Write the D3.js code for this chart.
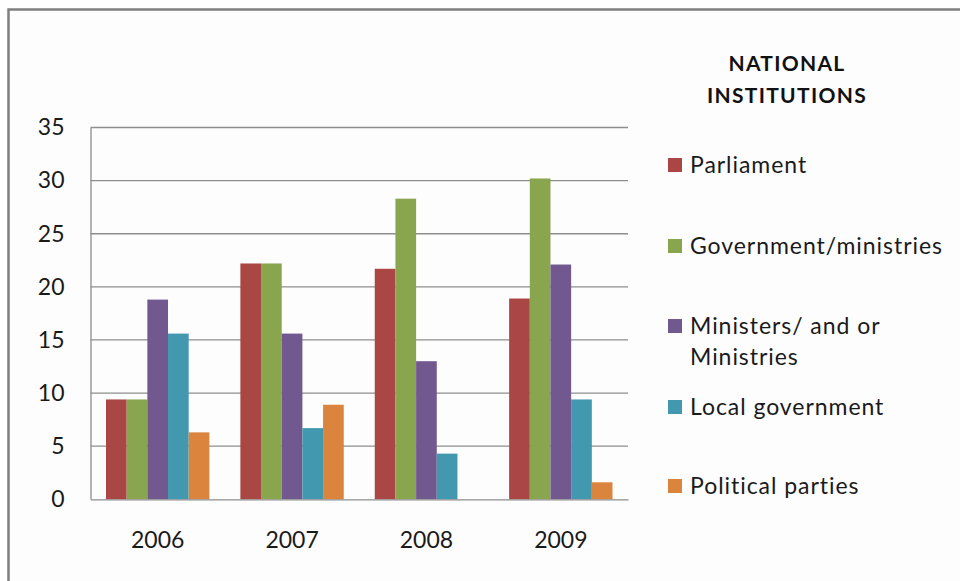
<!DOCTYPE html>
<html>
<head>
<meta charset="utf-8">
<script src="https://cdn.jsdelivr.net/npm/d3@7"></script>
<style>
  html, body { margin: 0; padding: 0; background: #fff; }
  svg { display: block; font-family: Lato, "Open Sans", sans-serif; }
</style>
</head>
<body>
<svg id="chart" width="960" height="581"></svg>
<script>
// Survey years on the category axis
const years = ["2006", "2007", "2008", "2009"];

// Institution series and their colours
const seriesNames = ["Parliament", "Government/ministries", "Ministers/ and or Ministries", "Local government", "Political parties"];
const seriesColors = ["#AA4643", "#89A54E", "#71588F", "#4198AF", "#DB843D"];

// Values per series, one per year
const parliament     = [9.4, 22.2, 21.7, 18.9];
const government     = [9.4, 22.2, 28.3, 30.2];
const ministers      = [18.8, 15.6, 13.0, 22.1];
const localGov       = [15.6, 6.7, 4.3, 9.4];
const politicalParty = [6.3, 8.9, 0, 1.6];
const seriesValues = [parliament, government, ministers, localGov, politicalParty];

// Value axis ticks
const yTicks = [0, 5, 10, 15, 20, 25, 30, 35];

// Legend text lines (one entry wraps onto two lines)
const legendLines = [["Parliament"], ["Government/ministries"], ["Ministers/ and or", "Ministries"], ["Local government"], ["Political parties"]];
const legendTitle = ["NATIONAL", "INSTITUTIONS"];

const svg = d3.select("#chart");

// Outer frame
svg.append("rect")
  .attr("x", 8.5).attr("y", 9.5)
  .attr("width", 1000).attr("height", 700)
  .attr("fill", "#fdfdfd")
  .attr("stroke", "#7f7f7f")
  .attr("stroke-width", 2.5);

const plot = { left: 90.5, right: 628, top: 127.5, bottom: 499.3 };

const x = d3.scaleBand()
  .domain(years)
  .range([plot.left, plot.right])
  .paddingInner(1.5 / 6.5)
  .paddingOuter(0.75 / 6.5);

const xs = d3.scaleBand()
  .domain(d3.range(seriesNames.length))
  .range([0, x.bandwidth()])
  .padding(0);

const y = d3.scaleLinear()
  .domain([0, 35])
  .range([plot.bottom, plot.top]);

// Horizontal gridlines
svg.append("g")
  .selectAll("line")
  .data(yTicks.filter(d => d > 0))
  .join("line")
  .attr("x1", plot.left).attr("x2", plot.right)
  .attr("y1", d => y(d)).attr("y2", d => y(d))
  .attr("stroke", "#8e8e8e")
  .attr("stroke-width", 1.3);

// Bars
const groups = svg.append("g")
  .selectAll("g")
  .data(years)
  .join("g")
  .attr("transform", d => `translate(${x(d)},0)`);

groups.selectAll("rect")
  .data((yr, i) => seriesValues.map((vals, s) => ({ s, v: vals[i] })))
  .join("rect")
  .attr("x", d => xs(d.s))
  .attr("width", xs.bandwidth())
  .attr("y", d => y(d.v))
  .attr("height", d => y(0) - y(d.v))
  .attr("fill", d => seriesColors[d.s]);

// Value axis
const yAxis = svg.append("g")
  .attr("transform", `translate(${plot.left},0)`)
  .call(d3.axisLeft(y).tickValues(yTicks).tickSize(0).tickPadding(26));
yAxis.select(".domain").attr("stroke", "#8e8e8e").attr("stroke-width", 1.3);
yAxis.selectAll("text")
  .attr("font-size", 23)
  .attr("font-family", "Lato, sans-serif")
  .attr("fill", "#1a1a1a");

// Category axis
const xAxis = svg.append("g")
  .attr("transform", `translate(0,${plot.bottom})`)
  .call(d3.axisBottom(x).tickSize(0).tickPadding(32));
xAxis.select(".domain").attr("stroke", "#8e8e8e").attr("stroke-width", 1.3);
xAxis.selectAll("text")
  .attr("font-size", 23)
  .attr("font-family", "Lato, sans-serif")
  .attr("fill", "#1a1a1a");

// Legend title
svg.append("text")
  .attr("x", 787).attr("y", 71)
  .attr("text-anchor", "middle")
  .attr("font-size", 21)
  .attr("font-weight", "bold")
  .attr("letter-spacing", 1.3)
  .attr("fill", "#111")
  .selectAll("tspan")
  .data(legendTitle)
  .join("tspan")
  .attr("x", 787)
  .attr("dy", (d, i) => i === 0 ? 0 : 32)
  .text(d => d);

// Legend entries
const legendY = [165, 246, 326, 407, 486];
const legend = svg.append("g")
  .selectAll("g")
  .data(seriesNames)
  .join("g")
  .attr("transform", (d, i) => `translate(668,${legendY[i]})`);

legend.append("rect")
  .attr("x", 0).attr("y", -7)
  .attr("width", 14).attr("height", 14)
  .attr("fill", (d, i) => seriesColors[i]);

legend.append("text")
  .attr("font-size", 23)
  .attr("letter-spacing", 0.95)
  .attr("fill", "#1a1a1a")
  .selectAll("tspan")
  .data((d, i) => legendLines[i])
  .join("tspan")
  .attr("x", 22)
  .attr("y", (d, j) => 8 + j * 31)
  .text(d => d);
</script>
</body>
</html>
